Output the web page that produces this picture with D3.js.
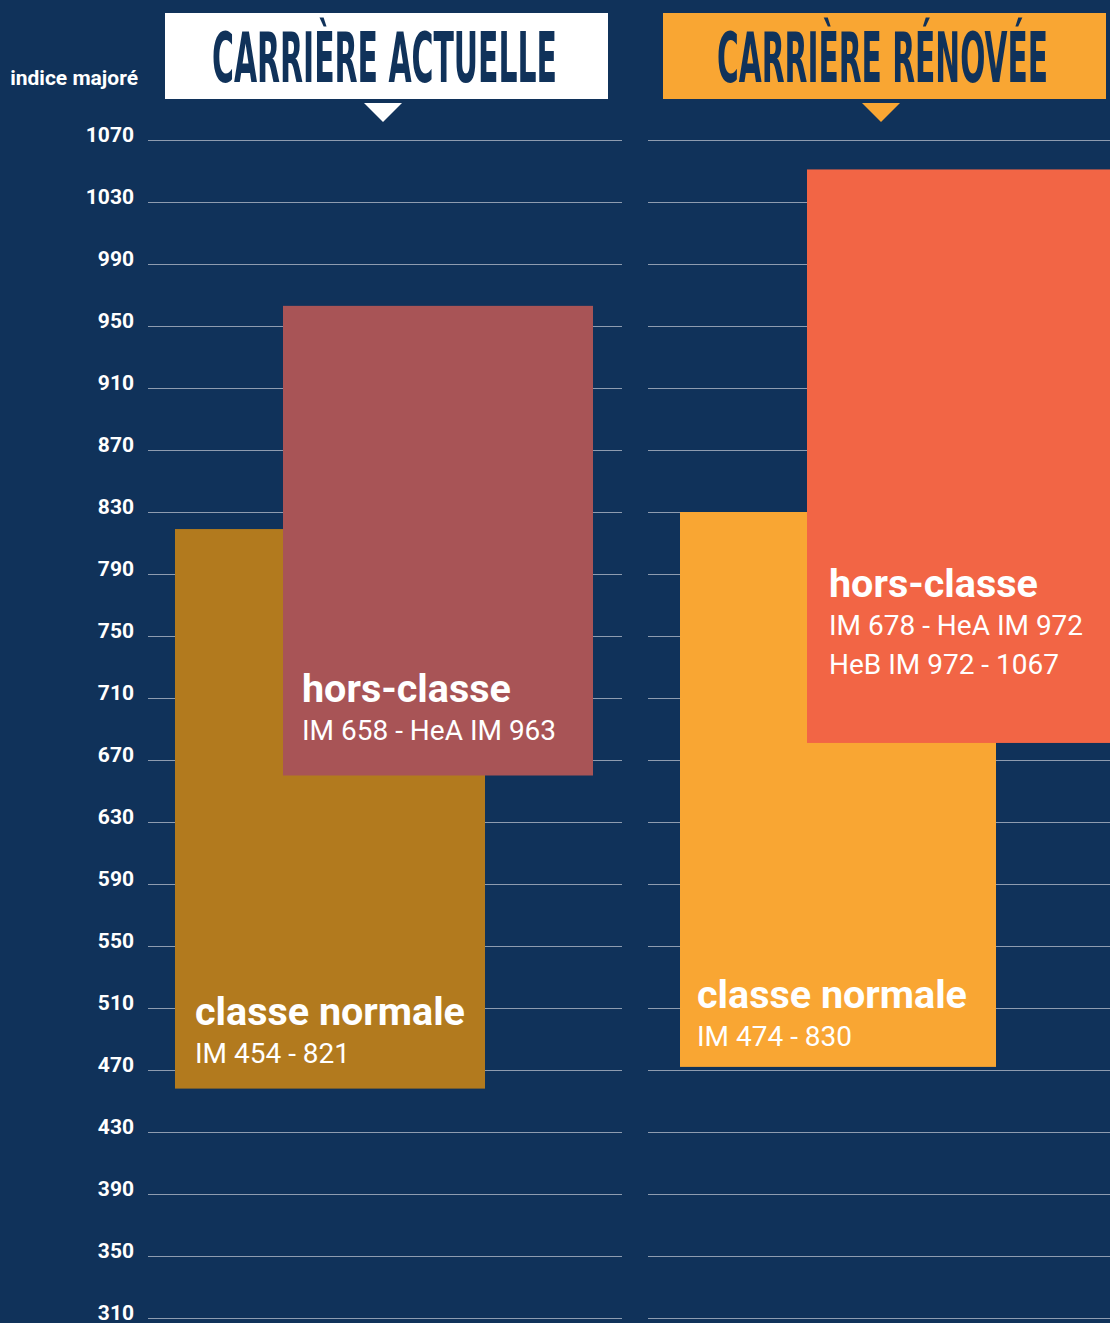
<!DOCTYPE html>
<html>
<head>
<meta charset="utf-8">
<script src="https://cdn.jsdelivr.net/npm/d3@7"></script>
<style>
  html, body { margin: 0; padding: 0; background: #10325a; }
  svg { display: block; }
</style>
</head>
<body>
<div id="chart"></div>
<script>
// tick values of the "indice majoré" axis
const ticks = [1070, 1030, 990, 950, 910, 870, 830, 790, 750, 710, 670, 630, 590, 550, 510, 470, 430, 390, 350, 310];

// the two careers (panels)
const panels = ["CARRIÈRE ACTUELLE", "CARRIÈRE RÉNOVÉE"];

// bars, in drawing order
const barPanel = [0, 0, 1, 1];
const barNames = ["classe normale", "hors-classe", "classe normale", "hors-classe"];
const barLow   = [458, 660, 472, 681];
const barHigh  = [819, 963, 830, 1051];
const barLines = [
    ["IM 454 - 821"],
    ["IM 658 - HeA IM 963"],
    ["IM 474 - 830"],
    ["IM 678 - HeA IM 972", "HeB IM 972 - 1067"]
];

// layout
const width = 1110;
const height = 1323;
const navy = "#10325a";
const barColors = ["#b27a1e", "#a85456", "#f9a633", "#f26545"];
const headFill = ["#ffffff", "#f9a633"];
const headBox = [{x: 165, w: 443, tx: 212, tw: 345, tri: 383},
                 {x: 663, w: 443, tx: 717, tw: 331, tri: 881}];
const gridX = [[148, 622], [648, 1110]];
const barX = [175, 283, 680, 807];
const barW = [310, 310, 316, 310];
const textPad = [20, 19, 17, 22];
// title baseline measured from bar bottom (or top for the last one)
const labelY = [d => y(d.low) - 64, d => y(d.low) - 74, d => y(d.low) - 59, d => y(d.high) + 428];

const y = d3.scaleLinear().domain([310, 1070]).range([1318, 140]);

const svg = d3.select("#chart")
    .append("svg")
    .attr("width", width)
    .attr("height", height);

svg.append("rect")
    .attr("width", width)
    .attr("height", height)
    .attr("fill", navy);

// HEADERS
const heads = svg.selectAll("g.head")
    .data(panels)
    .enter()
    .append("g")
    .attr("class", "head");

heads.append("rect")
    .attr("x", (d, i) => headBox[i].x)
    .attr("y", 13)
    .attr("width", (d, i) => headBox[i].w)
    .attr("height", 86)
    .attr("fill", (d, i) => headFill[i]);

heads.append("path")
    .attr("d", (d, i) => {
        const c = headBox[i].tri;
        return `M${c - 19},103 L${c + 19},103 L${c},122 Z`;
    })
    .attr("fill", (d, i) => headFill[i]);

heads.append("text")
    .text(d => d)
    .attr("x", (d, i) => headBox[i].tx)
    .attr("y", 82)
    .attr("textLength", (d, i) => headBox[i].tw)
    .attr("lengthAdjust", "spacingAndGlyphs")
    .attr("font-family", "'DejaVu Sans Condensed', 'DejaVu Sans'")
    .attr("font-weight", "bold")
    .attr("font-size", 70)
    .attr("fill", navy);

// AXIS TITLE
svg.append("text")
    .text("indice majoré")
    .attr("x", 138)
    .attr("y", 85)
    .attr("text-anchor", "end")
    .attr("font-family", "Roboto")
    .attr("font-weight", "bold")
    .attr("font-size", 21)
    .attr("fill", "#ffffff");

// GRID
gridX.forEach(gx => {
    svg.append("g")
        .selectAll("line")
        .data(ticks)
        .enter()
        .append("line")
        .attr("x1", gx[0])
        .attr("x2", gx[1])
        .attr("y1", d => Math.round(y(d)) + 0.5)
        .attr("y2", d => Math.round(y(d)) + 0.5)
        .attr("stroke", "#8e9cb0")
        .attr("stroke-width", 1);
});

// TICK LABELS
svg.append("g")
    .selectAll("text")
    .data(ticks)
    .enter()
    .append("text")
    .text(d => d)
    .attr("x", 134)
    .attr("y", d => y(d) + 2)
    .attr("text-anchor", "end")
    .attr("font-family", "Roboto")
    .attr("font-weight", "bold")
    .attr("font-size", 21)
    .attr("fill", "#ffffff");

// BARS
const bars = barNames.map((name, i) => ({
    name, panel: barPanel[i], low: barLow[i], high: barHigh[i], lines: barLines[i], i
}));

const g = svg.selectAll("g.bar")
    .data(bars)
    .enter()
    .append("g")
    .attr("class", "bar");

g.append("rect")
    .attr("x", d => barX[d.i])
    .attr("y", d => y(d.high))
    .attr("width", d => barW[d.i])
    .attr("height", d => y(d.low) - y(d.high))
    .attr("fill", d => barColors[d.i]);

g.append("text")
    .text(d => d.name)
    .attr("x", d => barX[d.i] + textPad[d.i])
    .attr("y", d => labelY[d.i](d))
    .attr("font-family", "Roboto")
    .attr("font-weight", "bold")
    .attr("font-size", 39.5)
    .attr("fill", "#ffffff");

g.each(function(d) {
    d3.select(this).selectAll("text.sub")
        .data(d.lines)
        .enter()
        .append("text")
        .attr("class", "sub")
        .text(t => t)
        .attr("x", barX[d.i] + textPad[d.i])
        .attr("y", (t, j) => labelY[d.i](d) + 38 + j * 39)
        .attr("font-family", "Roboto")
        .attr("font-size", 28)
        .attr("fill", "#ffffff");
});
</script>
</body>
</html>
